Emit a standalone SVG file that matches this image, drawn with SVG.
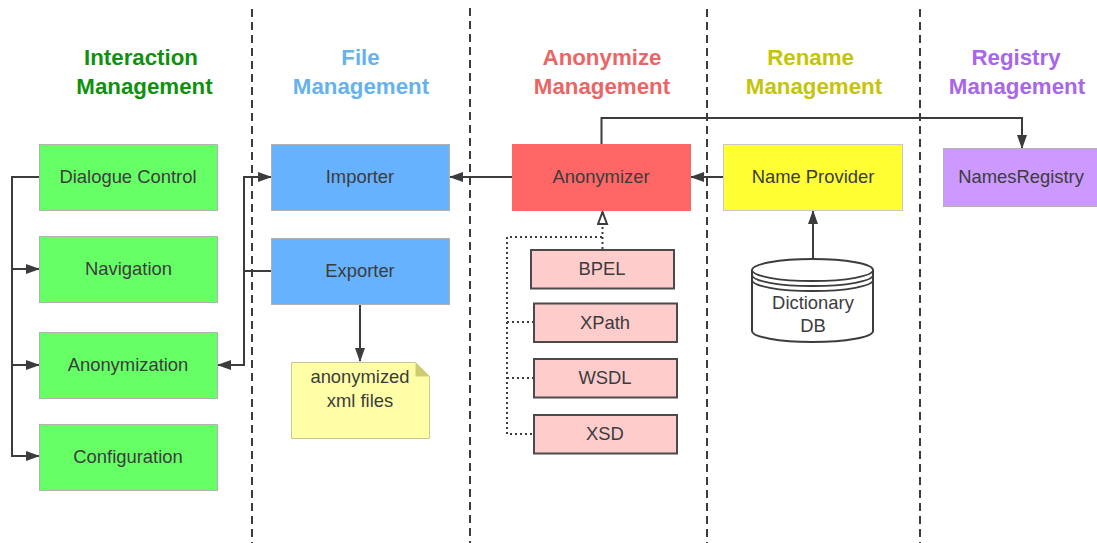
<svg xmlns="http://www.w3.org/2000/svg" width="1097" height="543" viewBox="0 0 1097 543">
<style>
text{font-family:"Liberation Sans",Arial,sans-serif;font-size:18.400px;fill:#3c3c3c;text-anchor:middle}
.h{font-size:22.300px;font-weight:bold}
.g{fill:#66ff66;stroke:#b2b2b2}
.b{fill:#66b2ff;stroke:#b2b2b2}
.p{fill:#ffcccc;stroke:#4a4a4a;stroke-width:2}
.c path{fill:none;stroke:#3c3c3c;stroke-width:2}
.c .d{stroke-dasharray:2 3}
.s{fill:none;stroke:#3c3c3c;stroke-width:2;stroke-dasharray:8 5}
</style>
<defs>
<marker id="a" markerUnits="userSpaceOnUse" markerWidth="14" markerHeight="12" refX="13" refY="6" orient="auto"><path d="M0 1L14 6L0 11Z" fill="#3c3c3c"/></marker>
<marker id="o" markerUnits="userSpaceOnUse" markerWidth="15" markerHeight="12" refX="14" refY="6" orient="auto"><path d="M1 1.500L13 6L1 10.500Z" fill="#fff" stroke="#3c3c3c" stroke-width="2"/></marker>
</defs>
<g id="swimlanes">
<path class="s" d="M252 9V543"/><path class="s" d="M470 8V543"/><path class="s" d="M707 9V543"/><path class="s" d="M920 9V543"/>
</g>
<g id="headers">
<text class="h" x="141" y="65" style="fill:#0f910f">Interaction</text><text class="h" x="144.500" y="94" style="fill:#0f910f">Management</text>
<text class="h" x="360.500" y="65" style="fill:#66b2ee">File</text><text class="h" x="361" y="94" style="fill:#66b2ee">Management</text>
<text class="h" x="602" y="65" style="fill:#ea6666">Anonymize</text><text class="h" x="602" y="94" style="fill:#ea6666">Management</text>
<text class="h" x="810.500" y="65" style="fill:#c4c40c">Rename</text><text class="h" x="814" y="94" style="fill:#c4c40c">Management</text>
<text class="h" x="1016" y="65" style="fill:#a866ea">Registry</text><text class="h" x="1017" y="94" style="fill:#a866ea">Management</text>
</g>
<g id="connectors" class="c">
<path d="M39 177H12V456H39" marker-end="url(#a)"/>
<path d="M12 269H39" marker-end="url(#a)"/>
<path d="M12 365H39" marker-end="url(#a)"/>
<path d="M271 271H244V177H271" marker-end="url(#a)"/>
<path d="M244 271V365H218" marker-end="url(#a)"/>
<path d="M512 177H450" marker-end="url(#a)"/>
<path d="M723 177H691" marker-end="url(#a)"/>
<path d="M360 305V361" marker-end="url(#a)"/>
<path d="M813 258V211" marker-end="url(#a)"/>
<path d="M601.500 144V118H1022V148" marker-end="url(#a)"/>
<path class="d" d="M602.500 249V211" marker-end="url(#o)"/>
<path class="d" d="M602 237H507V434H533"/>
<path class="d" d="M507 322H533"/>
<path class="d" d="M507 378H533"/>
</g>
<g id="dialogue-control"><rect class="g" x="39.500" y="144.500" width="178" height="66"/><text x="128" y="183">Dialogue Control</text></g>
<g id="navigation"><rect class="g" x="39.500" y="236.500" width="178" height="66"/><text x="128.500" y="275">Navigation</text></g>
<g id="anonymization"><rect class="g" x="39.500" y="332.500" width="178" height="66"/><text x="128" y="371">Anonymization</text></g>
<g id="configuration"><rect class="g" x="39.500" y="424.500" width="178" height="66"/><text x="128" y="463">Configuration</text></g>
<g id="importer"><rect class="b" x="271.500" y="144.500" width="178" height="66"/><text x="360" y="183">Importer</text></g>
<g id="exporter"><rect class="b" x="271.500" y="238.500" width="178" height="66"/><text x="360" y="277">Exporter</text></g>
<g id="anonymized-files"><path d="M291.500 362.500H415.500L429.500 376.500V438.500H291.500Z" fill="#ffffa8" stroke="#c8c896"/><path d="M415.500 362.500L429.500 376.500H415.500Z" fill="#cdcd70"/><text x="360" y="383">anonymized</text><text x="360" y="407">xml files</text></g>
<g id="anonymizer"><rect x="512" y="144" width="179" height="67" fill="#ff6666"/><text x="601" y="183">Anonymizer</text></g>
<g id="bpel"><rect class="p" x="531" y="250" width="143" height="38.500"/><text x="602" y="275">BPEL</text></g>
<g id="xpath"><rect class="p" x="534" y="303.500" width="143" height="38.500"/><text x="605" y="329">XPath</text></g>
<g id="wsdl"><rect class="p" x="534" y="359" width="143" height="38.500"/><text x="605" y="384">WSDL</text></g>
<g id="xsd"><rect class="p" x="534" y="415" width="143" height="38.500"/><text x="605" y="440">XSD</text></g>
<g id="name-provider"><rect x="723.500" y="144.500" width="179" height="66" fill="#ffff33" stroke="#c8c8c8"/><text x="813" y="183">Name Provider</text></g>
<g id="dictionary-db"><path d="M752 270A60.500 11 0 0 1 873 270V331A60.500 11 0 0 1 752 331Z" fill="#fff" stroke="#3c3c3c" stroke-width="2"/><path d="M752 270A60.500 11 0 0 0 873 270M752 275A60.500 11 0 0 0 873 275M752 280A60.500 11 0 0 0 873 280" fill="none" stroke="#3c3c3c" stroke-width="1.800"/><text x="813" y="309">Dictionary</text><text x="813" y="332">DB</text></g>
<g id="names-registry"><rect x="943.500" y="148.500" width="154" height="58" fill="#cc99ff" stroke="#b2b2b2"/><text x="1021" y="183">NamesRegistry</text></g>
</svg>
